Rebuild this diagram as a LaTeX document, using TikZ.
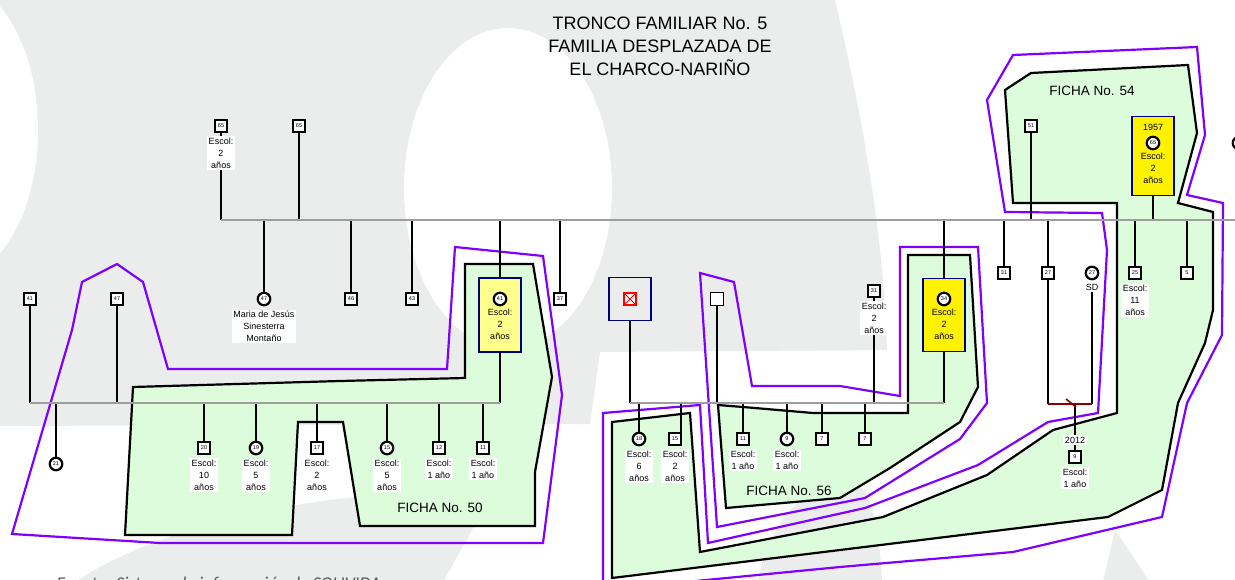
\documentclass[tikz,border=0pt]{standalone}
\usepackage{fontspec}
\setmainfont{Liberation Sans}
\newfontfamily\fuentefont{Carlito}
\usepackage{tikz}
\usetikzlibrary{positioning,calc}
\definecolor{MarkGray}{HTML}{EBECEC}
\definecolor{LineGray}{HTML}{9E9E9E}
\definecolor{FichaGreen}{HTML}{DCFCDC}
\definecolor{FichaPurple}{HTML}{8000FF}
\definecolor{FichaNavy}{HTML}{000080}
\definecolor{BondRed}{HTML}{8B0000}
\definecolor{PaleYellow}{HTML}{FFFF8C}
\definecolor{SourceGray}{HTML}{595959}

\begin{document}
\begin{tikzpicture}[x=1pt, y=-1pt,
    person/.style={draw, fill=white, line width=1.8pt, minimum size=12pt, inner sep=0pt,
      font=\fontsize{5.5}{6}\selectfont},
    male/.style={person},
    female/.style={person, circle, line width=2.2pt, minimum size=12.5pt},
    note/.style={fill=white, inner sep=1.5pt, align=center, font=\fontsize{9}{12}\selectfont},
    intext/.style={note, fill=none},
    holder/.style={draw=FichaNavy, line width=1.6pt, minimum width=42pt, inner sep=0pt},
    bond/.style={line width=2pt, draw=black},
    famline/.style={line width=2.8pt, draw=LineGray},
    ficha/.style={draw=black, line width=2.2pt, fill=FichaGreen},
    hull/.style={draw=FichaPurple, line width=2.2pt},
    fichaname/.style={font=\fontsize{13.5}{16}\selectfont}
  ]
    \useasboundingbox (0,0) rectangle (1235,580);
    \clip (0,0) rectangle (1235,580);
    % watermark
    \fill[white] (0,0) rectangle (1235,580);
    \fill[MarkGray] (0,0) -- (835,0) .. controls (868,140) and (884,250) .. (887,350)
      -- (600,352) -- (590,424) -- (0,426) -- cycle;
    \fill[white] (-50,130) ellipse [x radius=88, y radius=150];
    \fill[white] (508,188) ellipse [x radius=104, y radius=160];
    \fill[MarkGray] (75,582) .. controls (130,545) and (220,515) .. (330,500) -- (500,480) -- (443,582) -- cycle;
    \fill[MarkGray] (758,582) .. controls (768,520) and (810,481) .. (848,480)
      .. controls (870,480) and (880,530) .. (882,582) -- cycle;
    \fill[MarkGray] (1103,582) -- (1115,530) -- (1150,582) -- cycle;

    % fichas
    \draw[hull] (82,282) -- (117,264) -- (143,282) -- (168,369) -- (447,369) -- (455,247) -- (543,256)
      -- (562,395) -- (543,543) -- (160,543) -- (12,534) -- (72,330) -- cycle;
    \draw[ficha] (133,387) -- (340,381) -- (465,378) -- (465,264) -- (533,264) -- (552,377) -- (535,472)
      -- (535,526) -- (360,526) -- (343,422) -- (298,422) -- (292,535) -- (125,535) -- cycle;
    \draw[hull] (700,273) -- (734,282) -- (752,386) -- (840,386) -- (900,396) -- (900,247) -- (978,247)
      -- (987,403) -- (960,439) -- (865,498) -- (717,527) -- cycle;
    \draw[ficha] (718,405) -- (743,407) -- (813,413) -- (908,413) -- (908,255) -- (970,255) -- (978,387)
      -- (960,422) -- (890,468) -- (840,498) -- (726,508) -- cycle;
    \draw[hull] (987,100) -- (1013,55) -- (1197,47) -- (1205,135) -- (1187,195) -- (1223,203) -- (1222,335)
      -- (1187,403) -- (1162,517) -- (1013,552) -- (840,567) -- (603,590) -- (603,413) -- (700,405)
      -- (708,543) -- (865,508) -- (978,465) -- (1048,422) -- (1098,413) -- (1107,250) -- (1102,213)
      -- (1005,212) -- cycle;
    \draw[ficha] (1005,90) -- (1031,73) -- (1188,65) -- (1197,133) -- (1178,203) -- (1213,212) -- (1213,310)
      -- (1205,343) -- (1178,403) -- (1162,490) -- (1108,517) -- (840,550) -- (612,578) -- (612,422)
      -- (690,413) -- (700,552) -- (883,517) -- (987,475) -- (1053,430) -- (1117,413) -- (1117,203)
      -- (1013,203) -- cycle;
    \node[fichaname] (ficha50) at (440,508) {FICHA No. 50};
    \node[fichaname] (ficha56) at (789,491) {FICHA No. 56};
    \node[fichaname] (ficha54) at (1092,91) {FICHA No. 54};

    \node[align=center, font=\fontsize{18}{23}\selectfont] (title) at (660,46)
      {TRONCO FAMILIAR No. 5\\FAMILIA DESPLAZADA DE\\EL CHARCO-NARIÑO};
    \node[anchor=base west, font=\fuentefont\itshape\fontsize{18}{20}\selectfont, text=SourceGray] (fuente)
      at (53,589) {Fuente: Sistema de información de SOLIVIDA};

    % first generation
    \coordinate (g1w) at (221,220);
    \coordinate (g1e) at (1240,220);
    \node[male] (p65a) at (221,126) {65};
    \node[note, below=3pt of p65a] (e65a) {Escol:\\2\\años};
    \node[male] (p65b) at (299,126) {65};
    \node[female] (m47) at (264,299) {47};
    \node[note, below=3pt of m47] (n47) {Maria de Jesús\\Sinesterra\\Montaño};
    \node[male] (p46) at (351,299) {46};
    \node[male] (p43) at (412,299) {43};
    \node[holder, fill=PaleYellow, minimum height=74pt] (h41) at (500,315) {};
    \node[female] (f41) at (500,299) {41};
    \node[intext, below=1pt of f41] (e41) {Escol:\\2\\años};
    \node[male] (p37) at (560,299) {37};

    % ficha 50
    \coordinate (g2w) at (30,403);
    \coordinate (g2e) at (500,403);
    \node[male] (p41) at (30,299) {41};
    \node[male] (p47) at (117,299) {47};
    \node[female] (f21) at (56,464) {21};
    \node[male] (p20) at (204,448) {20};
    \node[note, below=3pt of p20] (e20) {Escol:\\10\\años};
    \node[female] (f19) at (256,448) {19};
    \node[note, below=3pt of f19] (e19) {Escol:\\5\\años};
    \node[male] (p17) at (317,448) {17};
    \node[note, below=3pt of p17] (e17) {Escol:\\2\\años};
    \node[female] (f15) at (387,448) {15};
    \node[note, below=3pt of f15] (e15) {Escol:\\5\\años};
    \node[male] (p12) at (439,448) {12};
    \node[note, below=3pt of p12] (e12) {Escol:\\1 año};
    \node[male] (p11) at (483,448) {11};
    \node[note, below=3pt of p11] (e11) {Escol:\\1 año};

    % ficha 56
    \coordinate (g3w) at (630,403);
    \coordinate (g3e) at (944,403);
    \coordinate (c15) at (681,403);
    \node[holder, minimum height=43pt] (h00) at (630,299) {};
    \node[draw=red, fill=white, line width=1.4pt, minimum size=12pt, inner sep=0pt] (dead) at (630,299) {};
    \draw[red, line width=1pt] (dead.north west) -- (dead.south east) (dead.north east) -- (dead.south west);
    \node[male, minimum size=13pt] (p00) at (717,299) {};
    \node[male] (p31b) at (874,291) {31};
    \node[note, below=3pt of p31b] (e31b) {Escol:\\2\\años};
    \node[holder, fill=yellow, minimum height=73pt] (h34) at (944,315) {};
    \node[female] (f34) at (944,299) {34};
    \node[intext, below=1pt of f34] (e34) {Escol:\\2\\años};
    \node[female] (f18) at (639,439) {18};
    \node[note, below=3pt of f18] (e18) {Escol:\\6\\años};
    \node[male] (p15b) at (675,439) {15};
    \node[note, below=3pt of p15b] (e15b) {Escol:\\2\\años};
    \node[male] (p11b) at (743,439) {11};
    \node[note, below=3pt of p11b] (e11b) {Escol:\\1 año};
    \node[female] (f9) at (787,439) {9};
    \node[note, below=3pt of f9] (e9b) {Escol:\\1 año};
    \node[male] (p7a) at (822,439) {7};
    \node[male] (p7b) at (865,439) {7};

    % ficha 54
    \node[male] (p51) at (1031,126) {51};
    \node[holder, fill=yellow, minimum height=79pt] (h65) at (1153,156) {};
    \node[intext] (y1957) at (1153,127) {1957};
    \node[female] (f65) at (1153,143) {65};
    \node[intext, below=1pt of f65] (e65) {Escol:\\2\\años};
    \node[male] (p31c) at (1004,273) {31};
    \node[male] (p27) at (1048,273) {27};
    \node[female] (f27) at (1092,273) {27};
    \node[note, below=2pt of f27] (sd) {SD};
    \node[male] (p25) at (1135,273) {25};
    \node[note, below=3pt of p25] (e25) {Escol:\\11\\años};
    \node[male] (p5) at (1187,273) {5};
    \node[female] (fedge) at (1239,143) {};
    \coordinate (m27w) at (1048,404);
    \coordinate (m27e) at (1092,404);
    \coordinate (m27s) at (1071,403);
    \coordinate (k9) at (1075,404);
    \node[note] (y2012) at (1075,440) {2012};
    \node[male] (p9) at (1075,457) {9};
    \node[note, below=3pt of p9] (e9) {Escol:\\1 año};

    \draw[bond] (p65a) -- (e65a);
    \draw[bond] (e65a) -- (g1w);
    \draw[bond] (p65b) -- (p65b |- g1w);
    \draw[bond] (m47) -- (m47 |- g1w);
    \draw[bond] (p46) -- (p46 |- g1w);
    \draw[bond] (p43) -- (p43 |- g1w);
    \draw[bond] (h41) -- (h41 |- g1w);
    \draw[bond] (h41) -- (g2e);
    \draw[bond] (p37) -- (p37 |- g1w);
    \draw[bond] (h34) -- (h34 |- g1w);
    \draw[bond] (h34) -- (g3e);
    \draw[bond] (p51) -- (p51 |- g1w);
    \draw[bond] (h65) -- (h65 |- g1w);
    \draw[bond] (p31c) -- (p31c |- g1w);
    \draw[bond] (p27) -- (p27 |- g1w);
    \draw[bond] (p25) -- (p25 |- g1w);
    \draw[bond] (p5) -- (p5 |- g1w);

    \draw[bond] (p41) -- (g2w);
    \draw[bond] (p47) -- (p47 |- g2w);
    \draw[bond] (f21 |- g2w) -- (f21);
    \draw[bond] (p20 |- g2w) -- (p20);
    \draw[bond] (f19 |- g2w) -- (f19);
    \draw[bond] (p17 |- g2w) -- (p17);
    \draw[bond] (f15 |- g2w) -- (f15);
    \draw[bond] (p12 |- g2w) -- (p12);
    \draw[bond] (p11 |- g2w) -- (p11);

    \draw[bond] (h00) -- (g3w);
    \draw[bond] (p00) -- (p00 |- g3w);
    \draw[bond] (p31b) -- (e31b);
    \draw[bond] (e31b) -- (e31b |- g3w);
    \draw[bond] (f18 |- g3w) -- (f18);
    \draw[bond] (c15) -- (c15 |- p15b.south);
    \draw[bond] (p11b |- g3w) -- (p11b);
    \draw[bond] (f9 |- g3w) -- (f9);
    \draw[bond] (p7a |- g3w) -- (p7a);
    \draw[bond] (p7b |- g3w) -- (p7b);

    \draw[bond] (p27) -- (m27w);
    \draw[bond] (sd) -- (m27e);
    \draw[bond] (k9) -- (y2012);
    \draw[bond] (y2012) -- (p9);

    \draw[famline] (g1w) -- (g1e);
    \draw[famline] (g2w) -- (g2e);
    \draw[famline] (g3w) -- (g3e);
    \draw[line width=2.2pt, BondRed] (m27w) -- (m27e);
    \draw[line width=1.6pt, BondRed] ([shift={(-5pt,4pt)}]m27s) -- ([shift={(5pt,-4pt)}]m27s);
  \end{tikzpicture}
\end{document}
